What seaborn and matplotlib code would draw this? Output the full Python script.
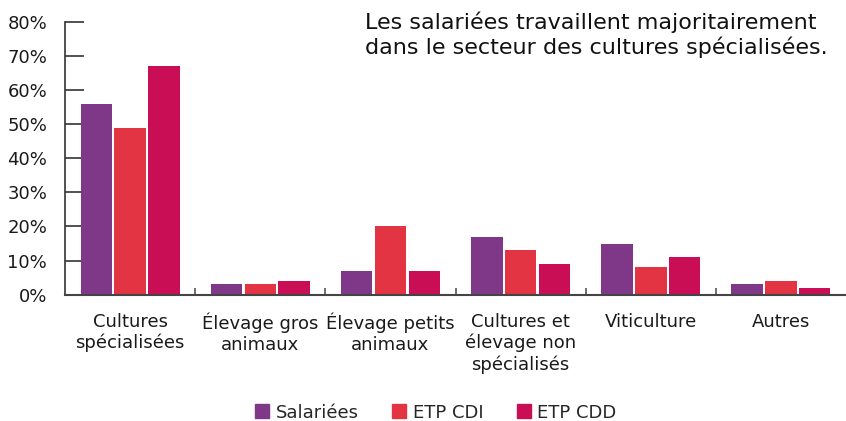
import pandas as pd
import numpy as np
import matplotlib
matplotlib.use("Agg")
import matplotlib.pyplot as plt
import seaborn as sns

# ==========================
# Data
# ==========================

categories = [
    "Cultures\nspécialisées",
    "Élevage gros\nanimaux",
    "Élevage petits\nanimaux",
    "Cultures et\nélevage non\nspécialisés",
    "Viticulture",
    "Autres",
]
series = ["Salariées", "ETP CDI", "ETP CDD"]
salariees = [56, 3, 7, 17, 15, 3]
etp_cdi = [49, 3, 20, 13, 8, 4]
etp_cdd = [67, 4, 7, 9, 11, 2]
colors = ["#7F3788", "#E33444", "#C90E55"]
y_ticks = [0, 10, 20, 30, 40, 50, 60, 70, 80]

df = pd.DataFrame({
    "categorie": categories * 3,
    "serie": [series[0]] * 6 + [series[1]] * 6 + [series[2]] * 6,
    "valeur": salariees + etp_cdi + etp_cdd,
})

# ==========================
# Plot
# ==========================

sns.set_style("white")
plt.rcParams["font.family"] = ["DejaVu Sans"]

fig = plt.figure(figsize=(8.46, 4.21), dpi=100)
ax = fig.add_axes([0.077, 0.300, 0.923, 0.648])

sns.barplot(data=df, x="categorie", y="valeur", hue="serie",
            palette=colors, width=0.78, gap=0.07, saturation=1,
            linewidth=0, ax=ax, legend=False)

ax.set_xlim(-0.5, 5.5)
ax.set_ylim(0, 80)
ax.set_yticks(y_ticks)
ax.set_yticklabels([f"{t}%" for t in y_ticks], fontsize=13, color="#1a1a1a")
ax.set_xlabel("")
ax.set_ylabel("")
ax.tick_params(axis="x", which="major", length=0, pad=13, labelsize=13,
               labelcolor="#1a1a1a")
ax.set_xticks(np.arange(0.5, 5.5, 1), minor=True)
ax.tick_params(axis="x", which="minor", bottom=True, direction="in",
               length=5, width=1.2, color="#555555")
ax.tick_params(axis="y", left=True, direction="in", length=14, width=1.2,
               color="#333333", pad=13)

for s in ["top", "right"]:
    ax.spines[s].set_visible(False)
ax.spines["left"].set_color("#333333")
ax.spines["left"].set_linewidth(1.2)
ax.spines["bottom"].set_color("#444444")
ax.spines["bottom"].set_linewidth(1.5)

fig.text(0.431, 0.972,
         "Les salariées travaillent majoritairement\n"
         "dans le secteur des cultures spécialisées.",
         ha="left", va="top", fontsize=16, color="#111111",
         linespacing=1.2)

handles = [plt.Rectangle((0, 0), 1, 1, color=c) for c in colors]
fig.legend(handles, series, loc="lower center", bbox_to_anchor=(0.515, -0.04),
           ncol=3, frameon=False, fontsize=13, handlelength=0.8,
           handleheight=0.8, handletextpad=0.35, columnspacing=1.85)

plt.savefig("out.png", dpi=100)
